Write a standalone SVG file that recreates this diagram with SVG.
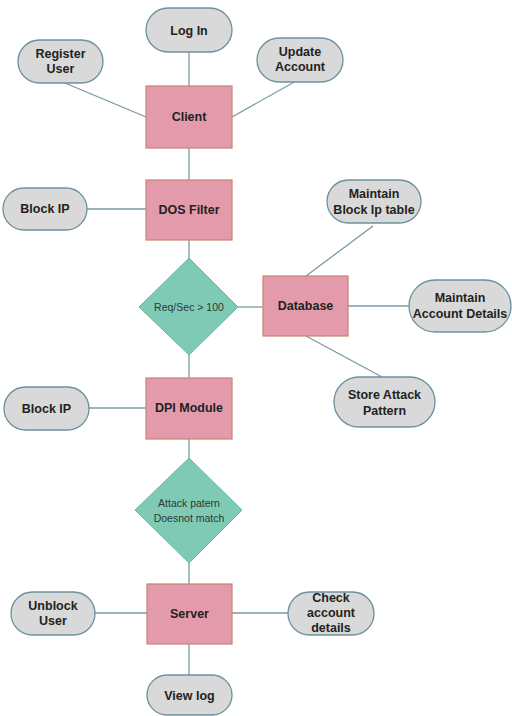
<svg xmlns="http://www.w3.org/2000/svg" width="512" height="716" viewBox="0 0 512 716">
<style>
.pill{fill:#d8d9d8;stroke:#6c919c;stroke-width:1.3}
.box{fill:#e39bac;stroke:#c98372;stroke-width:1.2}
.dia{fill:#7fcab4;stroke:#6cb8a0;stroke-width:1}
.lbl{font-family:"Liberation Sans",Arial,sans-serif;font-weight:bold;font-size:12.5px;fill:#222;text-anchor:middle}
.dl{font-family:"Liberation Sans",Arial,sans-serif;font-size:10.5px;fill:#2a3a33;text-anchor:middle}
#connectors line{stroke:#7b9aa6;stroke-width:1.3}
</style>
<rect width="512" height="716" fill="#fff"/>
<g id="connectors">
<line x1="189" y1="52" x2="189" y2="86"/>
<line x1="65" y1="83" x2="146" y2="117"/>
<line x1="296" y1="81" x2="232" y2="117"/>
<line x1="189" y1="148" x2="189" y2="180"/>
<line x1="87" y1="209" x2="146" y2="209"/>
<line x1="189" y1="240" x2="189" y2="258"/>
<line x1="238" y1="307" x2="263" y2="307"/>
<line x1="373" y1="226" x2="306" y2="276"/>
<line x1="348" y1="306" x2="409" y2="306"/>
<line x1="306" y1="336" x2="382" y2="377"/>
<line x1="189" y1="355" x2="189" y2="378"/>
<line x1="89" y1="408" x2="146" y2="408"/>
<line x1="189" y1="439" x2="189" y2="458"/>
<line x1="189" y1="563" x2="189" y2="584"/>
<line x1="95" y1="613" x2="147" y2="613"/>
<line x1="232" y1="613" x2="288" y2="613"/>
<line x1="189" y1="644" x2="189" y2="675"/>
</g>
<g id="login"><rect class="pill" x="146" y="8" width="86" height="44" rx="22"/><text class="lbl" x="189" y="35">Log In</text></g>
<g id="register"><rect class="pill" x="18" y="40" width="85" height="43" rx="21.5"/><text class="lbl" x="60.5" y="58">Register</text><text class="lbl" x="60.5" y="73">User</text></g>
<g id="update"><rect class="pill" x="257" y="38" width="86" height="44" rx="22"/><text class="lbl" x="300" y="56">Update</text><text class="lbl" x="300" y="71">Account</text></g>
<g id="client"><rect class="box" x="146" y="86" width="86" height="62"/><text class="lbl" x="189" y="121">Client</text></g>
<g id="blockip1"><rect class="pill" x="3" y="188" width="84" height="42" rx="21"/><text class="lbl" x="45" y="213">Block IP</text></g>
<g id="dosfilter"><rect class="box" x="146" y="180" width="86" height="60"/><text class="lbl" x="189" y="214">DOS Filter</text></g>
<g id="decision1"><polygon class="dia" points="189,258 238,307 189,355 139,307"/><text class="dl" x="189" y="311">Req/Sec &gt; 100</text></g>
<g id="database"><rect class="box" x="263" y="276" width="85" height="60"/><text class="lbl" x="305.5" y="310">Database</text></g>
<g id="blocktable"><rect class="pill" x="327" y="180" width="94" height="43" rx="21.5"/><text class="lbl" x="374" y="198">Maintain</text><text class="lbl" x="374" y="214">Block Ip table</text></g>
<g id="accdetails"><rect class="pill" x="409" y="280" width="102" height="52" rx="26"/><text class="lbl" x="460" y="302">Maintain</text><text class="lbl" x="460" y="318">Account Details</text></g>
<g id="storeattack"><rect class="pill" x="334" y="377" width="101" height="50" rx="25"/><text class="lbl" x="384.5" y="399">Store Attack</text><text class="lbl" x="384.5" y="415">Pattern</text></g>
<g id="blockip2"><rect class="pill" x="4" y="387" width="85" height="43" rx="21.5"/><text class="lbl" x="46.5" y="412.5">Block IP</text></g>
<g id="dpimodule"><rect class="box" x="146" y="378" width="86" height="61"/><text class="lbl" x="189" y="412">DPI Module</text></g>
<g id="decision2"><polygon class="dia" points="189,458 242,510 189,563 135,510"/><text class="dl" x="189" y="507">Attack patern</text><text class="dl" x="189" y="522">Doesnot match</text></g>
<g id="server"><rect class="box" x="147" y="584" width="85" height="60"/><text class="lbl" x="189.5" y="618">Server</text></g>
<g id="unblock"><rect class="pill" x="11" y="592" width="84" height="43" rx="21.5"/><text class="lbl" x="53" y="610">Unblock</text><text class="lbl" x="53" y="625">User</text></g>
<g id="checkacc"><rect class="pill" x="288" y="592" width="86" height="43" rx="21.5"/><text class="lbl" x="331" y="602">Check</text><text class="lbl" x="331" y="617">account</text><text class="lbl" x="331" y="632">details</text></g>
<g id="viewlog"><rect class="pill" x="147" y="675" width="85" height="40" rx="20"/><text class="lbl" x="189.5" y="700">View log</text></g>
</svg>
